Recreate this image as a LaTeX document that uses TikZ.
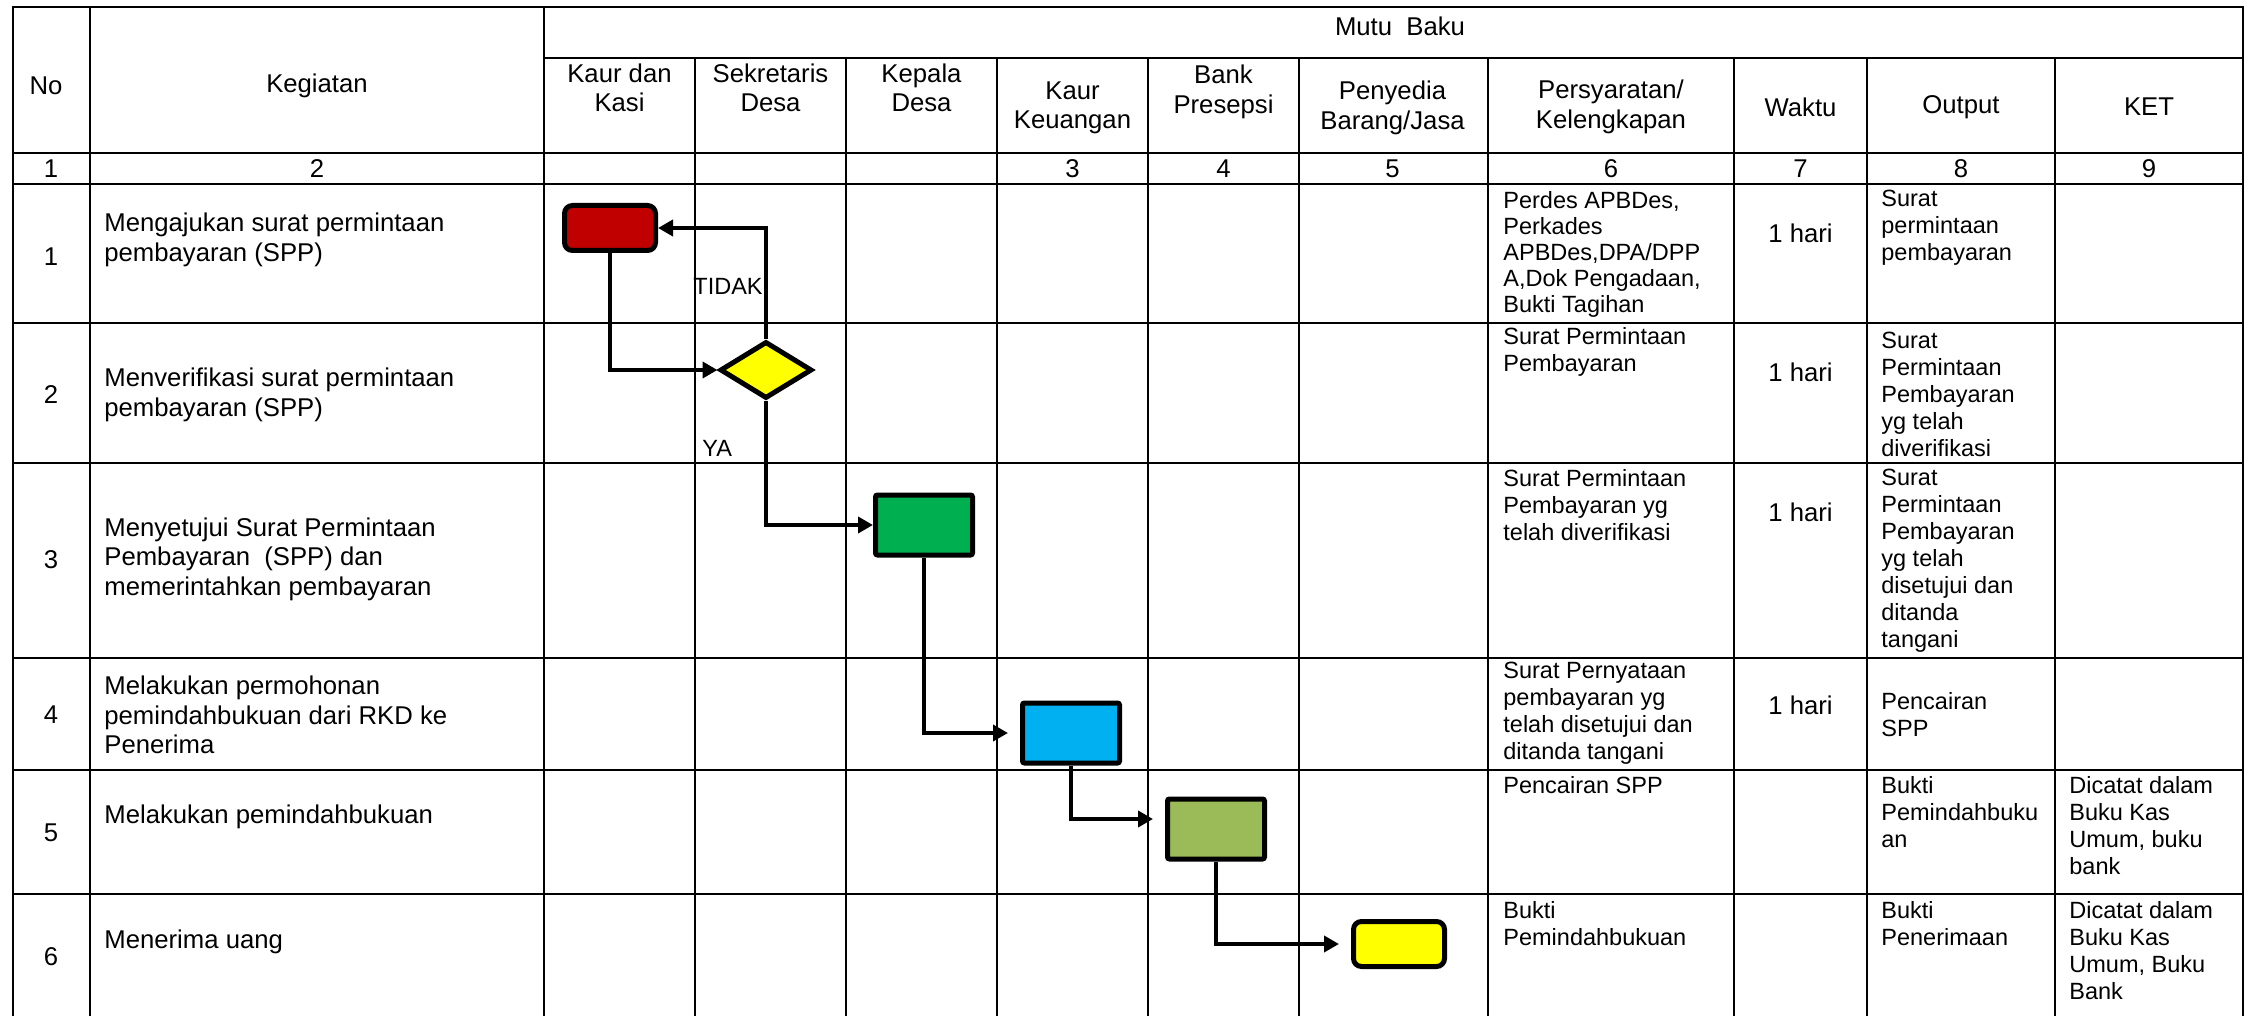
\documentclass[tikz,border=0pt]{standalone}
\usepackage{fontspec}
\setmainfont{Liberation Sans}
\usetikzlibrary{arrows.meta,shapes.geometric}
\definecolor{redc}{HTML}{C00000}
\definecolor{greenc}{HTML}{00B050}
\definecolor{bluec}{HTML}{00B0F0}
\definecolor{olivec}{HTML}{9BBB59}
\definecolor{yellowc}{HTML}{FFFF00}
\newcommand\bigtxt{\fontsize{12.85pt}{14.75pt}\selectfont}
\newcommand\smtxt{\fontsize{11.75pt}{13.5pt}\selectfont}
\newcommand\smtxtb{\fontsize{11.75pt}{13pt}\selectfont}
\begin{document}
\begin{tikzpicture}[x=0.5pt,y=-0.5pt,
  gridline/.style={line width=1pt},
  hd/.style={font=\bigtxt, inner sep=0pt, align=center},
  act/.style={font=\bigtxt, inner sep=0pt, align=left, anchor=west},
  cell/.style={font=\smtxt, inner sep=0pt, align=left, anchor=west},
  lbl/.style={font=\smtxt, inner sep=0pt, anchor=west},
  box/.style={draw=black, line width=2.5pt, rounded corners=1pt, minimum width=48.5pt, minimum height=30pt, inner sep=0pt},
  rbox/.style={draw=black, line width=2.5pt, rounded corners=4pt, minimum width=45.5pt, minimum height=22.5pt, inner sep=0pt},
  conn/.style={line width=2.25pt, -{Triangle[length=7.5pt,width=8pt]}},
]
\useasboundingbox (0,0) rectangle (2256,1016);
\fill[white] (0,0) rectangle (2256,1016);

% grid
\draw[gridline] (13,1016) -- (13,7) -- (2243,7) -- (2243,1016);
\foreach \x in {90,544} \draw[gridline] (\x,7) -- (\x,1016);
\foreach \x in {695,846,997,1148,1299,1488,1734,1867,2055} \draw[gridline] (\x,58) -- (\x,1016);
\draw[gridline] (544,58) -- (2243,58);
\foreach \y in {153,184,323,463,658,770,894} \draw[gridline] (13,\y) -- (2243,\y);

% headers
\node[hd] (hno) at (46,86) {No};
\node[hd] (hkeg) at (317,86) {Kegiatan};
\node[hd] (hmutu) at (1400,26) {Mutu\ \ Baku};
\node[hd] (h1) at (619.5,88) {Kaur dan\\Kasi};
\node[hd] (h2) at (770.5,88) {Sekretaris\\Desa};
\node[hd] (h3) at (921.5,88) {Kepala\\Desa};
\node[hd] (h4) at (1072.5,108) {Kaur\\Keuangan};
\node[hd] (h5) at (1223.5,92) {Bank\\Presepsi};
\node[hd] (h6) at (1392.5,108) {Penyedia\\Barang/Jasa};
\node[hd] (h7) at (1611,107) {Persyaratan/\\Kelengkapan};
\node[hd] (h8) at (1800.5,107) {Waktu};
\node[hd] (h9) at (1961,107) {Output};
\node[hd] (h10) at (2149,107) {KET};

% number row
\node[hd] (n1) at (51,169) {1};
\node[hd] (n2) at (317,169) {2};
\node[hd] (n3) at (1072.5,169) {3};
\node[hd] (n4) at (1223.5,169) {4};
\node[hd] (n5) at (1392.5,169) {5};
\node[hd] (n6) at (1611,169) {6};
\node[hd] (n7) at (1800.5,169) {7};
\node[hd] (n8) at (1961,169) {8};
\node[hd] (n9) at (2149,169) {9};

% row numbers
\node[hd] (r1) at (51,257) {1};
\node[hd] (r2) at (51,395) {2};
\node[hd] (r3) at (51,560) {3};
\node[hd] (r4) at (51,715) {4};
\node[hd] (r5) at (51,833) {5};
\node[hd] (r6) at (51,957) {6};

% activities
\node[act] (a1) at (104,240) {Mengajukan surat permintaan\\pembayaran (SPP)};
\node[act] (a2) at (104,395) {Menverifikasi surat permintaan\\pembayaran (SPP)};
\node[act] (a3) at (104,559) {Menyetujui Surat Permintaan\\Pembayaran\ \ (SPP) dan\\memerintahkan pembayaran};
\node[act] (a4) at (104,715) {Melakukan permohonan\\pemindahbukuan dari RKD ke\\Penerima};
\node[act] (a5) at (104,817) {Melakukan pemindahbukuan};
\node[act] (a6) at (104,942) {Menerima uang};

% persyaratan
\node[cell, font=\smtxtb] (p1) at (1503,254) {Perdes APBDes,\\Perkades\\APBDes,DPA/DPP\\A,Dok Pengadaan,\\Bukti Tagihan};
\node[cell] (p2) at (1503,351.5) {Surat Permintaan\\Pembayaran};
\node[cell] (p3) at (1503,505) {Surat Permintaan\\Pembayaran yg\\telah diverifikasi};
\node[cell] (p4) at (1503,713.5) {Surat Pernyataan\\pembayaran yg\\telah disetujui dan\\ditanda tangani};
\node[cell] (p5) at (1503,785) {Pencairan SPP};
\node[cell] (p6) at (1503,923.5) {Bukti\\Pemindahbukuan};

% waktu
\node[hd] (w1) at (1800.5,233) {1 hari};
\node[hd] (w2) at (1800.5,372) {1 hari};
\node[hd] (w3) at (1800.5,512) {1 hari};
\node[hd] (w4) at (1800.5,705) {1 hari};

% output
\node[cell] (o1) at (1881,228) {Surat\\permintaan\\pembayaran};
\node[cell] (o2) at (1881,394) {Surat\\Permintaan\\Pembayaran\\yg telah\\diverifikasi};
\node[cell] (o3) at (1881,561) {Surat\\Permintaan\\Pembayaran\\yg telah\\disetujui dan\\ditanda\\tangani};
\node[cell] (o4) at (1881,715) {Pencairan\\SPP};
\node[cell] (o5) at (1881,812) {Bukti\\Pemindahbuku\\an};
\node[cell] (o6) at (1881,923.5) {Bukti\\Penerimaan};

% ket
\node[cell] (k5) at (2069,825.5) {Dicatat dalam\\Buku Kas\\Umum, buku\\bank};
\node[cell] (k6) at (2069,950.5) {Dicatat dalam\\Buku Kas\\Umum, Buku\\Bank};

% flow shapes
\node[rbox, fill=redc] (s1) at (610,228) {};
\node[diamond, draw=black, line width=2.5pt, fill=yellowc, minimum width=46pt, minimum height=28.5pt, inner sep=0pt] (s2) at (766,370) {};
\node[box, fill=greenc] (s3) at (924,525) {};
\node[box, fill=bluec] (s4) at (1071,733) {};
\node[box, fill=olivec] (s5) at (1216,829) {};
\node[rbox, fill=yellowc] (s6) at (1399,944) {};

% labels
\node[lbl] (tidak) at (693,286) {TIDAK};
\node[lbl] (ya) at (702,448) {YA};

% connectors
\draw[conn] (s1.south) |- (s2.west);
\draw[conn] (s2.north) |- (s1.east);
\draw[conn] (s2.south) |- (s3.west);
\draw[conn, shorten >=6pt] (s3.south) |- (s4.west);
\draw[conn, shorten >=6pt] (s4.south) |- ([yshift=5pt]s5.west);
\draw[conn, shorten >=6pt] (s5.south) |- (s6.west);
\end{tikzpicture}
\end{document}
